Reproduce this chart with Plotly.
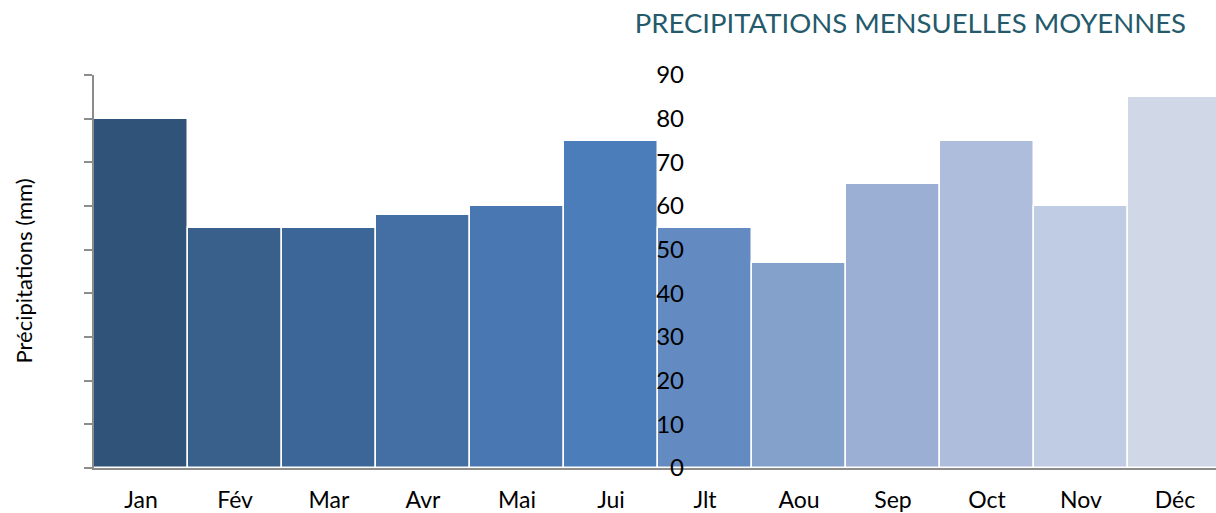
import plotly.graph_objects as go

months = ["Jan", "Fév", "Mar", "Avr", "Mai", "Jui", "Jlt", "Aou", "Sep", "Oct", "Nov", "Déc"]
precip = [80, 55, 55, 58, 60, 75, 55, 47, 65, 75, 60, 85]
colors = ["#305479", "#395F8B", "#3D6698", "#436FA5", "#4877B1", "#4A7DBA",
          "#638BC2", "#84A1CB", "#9AAFD3", "#ADBDDB", "#C0CCE3", "#D0D7E7"]
y_ticks = [0, 10, 20, 30, 40, 50, 60, 70, 80, 90]

FONT = "Lato"

fig = go.Figure()
fig.add_trace(go.Bar(
    x=months, y=precip,
    marker=dict(color=colors, line=dict(color="white", width=1.5)),
    showlegend=False,
))
# invisible trace to drive the mid-plot tick label axis
fig.add_trace(go.Scatter(x=months, y=precip, yaxis="y2", mode="markers",
                         marker=dict(opacity=0), showlegend=False, hoverinfo="skip"))

fig.update_layout(
    width=1216, height=513,
    margin=dict(l=94, r=0, t=75, b=45, autoexpand=False),
    paper_bgcolor="white", plot_bgcolor="white",
    bargap=0,
    font=dict(family=FONT, color="#000000"),
    title=dict(text="PRECIPITATIONS MENSUELLES MOYENNES",
               x=1186 / 1216, xanchor="right", xref="container",
               y=1 - 23 / 513, yanchor="middle", yref="container",
               font=dict(family=FONT, size=27.5, color="#245A6B")),
    xaxis=dict(range=[-0.5, 11.436], showline=True, linecolor="#8C8C8C", linewidth=2,
               ticks="", showgrid=False, zeroline=False, automargin=False,
               tickfont=dict(family=FONT, size=23, color="#000000"),
               ticklabelstandoff=10),
    yaxis=dict(range=[0, 90], tickvals=y_ticks, showline=True, linecolor="#8C8C8C",
               linewidth=2, ticks="outside", ticklen=8, tickcolor="#8C8C8C", tickwidth=2,
               showticklabels=False, showgrid=False, zeroline=False, automargin=False),
    yaxis2=dict(range=[0, 90], tickvals=y_ticks, overlaying="y", anchor="free",
                position=(684 - 94) / 1122, side="left", showline=False, ticks="",
                showgrid=False, zeroline=False, automargin=False,
                tickfont=dict(family=FONT, size=24, color="#000000")),
    annotations=[dict(text="Précipitations (mm)", textangle=-90,
                      xref="paper", yref="paper", x=(23 - 94) / 1122, y=0.5,
                      xanchor="center", yanchor="middle", showarrow=False,
                      font=dict(family=FONT, size=22, color="#000000"))],
)

fig.write_html("out.html",
               config={"displayModeBar": False},
               post_script="document.body.style.margin='0';document.body.style.overflow='hidden';")
